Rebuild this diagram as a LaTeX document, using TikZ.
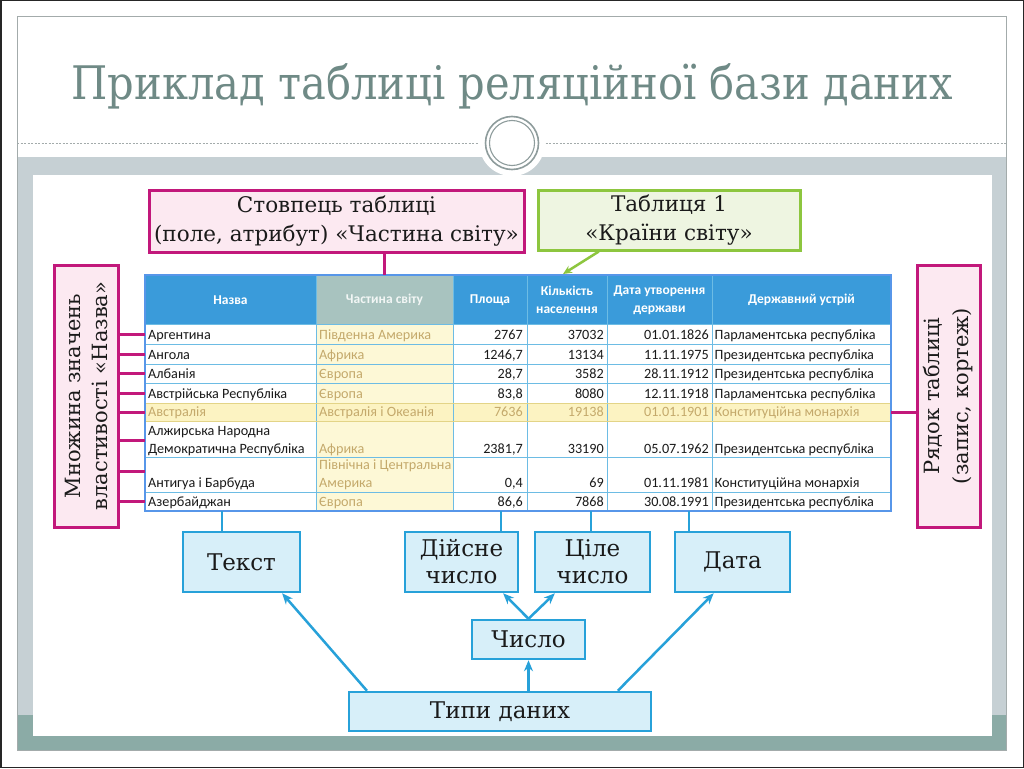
\documentclass[tikz,border=0pt]{standalone}
\usepackage{fontspec}
\setmainfont{DejaVu Serif}
\newfontfamily\titlefont{DejaVu Serif Condensed}
\newfontfamily\tabfont{Carlito}
\usetikzlibrary{arrows.meta,calc}
\definecolor{titlegray}{HTML}{6F8A86}
\definecolor{framegray}{HTML}{A3ABAB}
\definecolor{ringgray}{HTML}{8E9C9C}
\definecolor{bandgray}{HTML}{C6D0D4}
\definecolor{bandteal}{HTML}{8BABA6}
\definecolor{pinkline}{HTML}{C2187B}
\definecolor{pinkfill}{HTML}{FCE9F1}
\definecolor{greenline}{HTML}{8DC63F}
\definecolor{greenfill}{HTML}{EEF5E1}
\definecolor{blueline}{HTML}{27A1D9}
\definecolor{bluefill}{HTML}{D7EFF9}
\definecolor{headblue}{HTML}{3A9BDA}
\definecolor{headgray}{HTML}{A8C3BF}
\definecolor{gridblue}{HTML}{6DBCE4}
\definecolor{paleyellow}{HTML}{FDF8D6}
\definecolor{rowyellow}{HTML}{FCF3C2}
\definecolor{rowedge}{HTML}{E3D487}
\definecolor{tantext}{HTML}{C4A96B}
\definecolor{bodytext}{HTML}{1A1A1A}
\tikzset{
  pinkbox/.style={draw=pinkline, line width=3pt, fill=pinkfill, inner sep=0pt, align=center,
    text=bodytext, font=\fontsize{21.5}{29}\selectfont},
  greenbox/.style={draw=greenline, line width=3pt, fill=greenfill, inner sep=0pt, align=center,
    text=bodytext, font=\fontsize{21.5}{29}\selectfont},
  bluebox/.style={draw=blueline, line width=2.5pt, fill=bluefill, inner sep=0pt, align=center,
    text=bodytext, font=\fontsize{23}{27}\selectfont},
  pinkconn/.style={draw=pinkline, line width=3pt},
  blueconn/.style={draw=blueline, line width=2.5pt},
  bluearrow/.style={draw=blueline, line width=2.5pt, -{Stealth[length=11pt,width=9pt]}},
  greenarrow/.style={draw=greenline, line width=2.5pt, -{Stealth[length=9pt,width=8pt]}},
  hcell/.style={inner sep=0pt, align=center, text=white, font=\tabfont\bfseries\fontsize{13.5}{18}\selectfont},
  tcell/.style={inner sep=0pt, text=bodytext, font=\tabfont\fontsize{14.2}{18}\selectfont},
  tant/.style={text=tantext},
}
\begin{document}
\begin{tikzpicture}[x=1pt,y=-1pt]
\useasboundingbox (0,0) rectangle (1024,768);
\fill[white] (0,0) rectangle (1024,768);
\draw[black!85, line width=1.5pt] (0.75,0.75) rectangle (1023.25,767.25);
% slide frame
\fill[bandgray] (17,157) rectangle (1006,715);
\fill[bandteal] (17,715) rectangle (1006,750);
\draw[framegray, line width=1pt] (17,17) rectangle (1006,750);
\fill[white] (33,175) rectangle (992,736);
\draw[framegray, line width=1pt, dash pattern=on 2pt off 1.5pt] (17,143) -- (1006,143);
\fill[white] (512,143) circle (33);
\draw[ringgray, line width=1.6pt] (512,143) circle (26.5);
\draw[ringgray, line width=1.1pt] (512,143) circle (22.5);
% title
\node[anchor=base, inner sep=0pt, text=titlegray] (title) at (512,99)
  {\resizebox{881pt}{!}{\titlefont\fontsize{48}{48}\selectfont Приклад таблиці реляційної бази даних}};
% ---------- table ----------
\fill[headblue] (145,275) rectangle (891,324);
\fill[headgray] (316,275) rectangle (453,324);
\fill[white] (145,324) rectangle (891,511);
\fill[paleyellow] (316,324) rectangle (453,511);
\fill[rowyellow] (145,403) rectangle (891,421);
\foreach \yy in {324,344,364,383,403,421,457,492}
  \draw[gridblue, line width=1pt] (145,\yy) -- (891,\yy);
\foreach \xx in {316,453,527,607,712}
  \draw[gridblue, line width=1pt] (\xx,275) -- (\xx,511);
\draw[rowedge, line width=1pt] (145,403) rectangle (891,421);
\draw[gridblue!80!blue, line width=1.3pt] (145,275) rectangle (891,511);
% header
\node[hcell] (h1) at (230.5,300) {Назва};
\node[hcell, text=white!85!headgray] (h2) at (384.5,300) {Частина світу};
\node[hcell] (h3) at (490,300) {Площа};
\node[hcell] (h4) at (567,300) {Кількість\\населення};
\node[hcell] (h5) at (659.5,300) {Дата утворення\\держави};
\node[hcell] (h6) at (801.5,300) {Державний устрій};
% row 1
\node[tcell, anchor=base west] (r1a) at (148,339) {Аргентина};
\node[tcell, tant, anchor=base west] (r1b) at (319,339) {Південна Америка};
\node[tcell, anchor=base east] (r1c) at (523,339) {2767};
\node[tcell, anchor=base east] (r1d) at (604,339) {37032};
\node[tcell, anchor=base east] (r1e) at (709,339) {01.01.1826};
\node[tcell, anchor=base west] (r1f) at (714.5,339) {Парламентська республіка};
% row 2
\node[tcell, anchor=base west] (r2a) at (148,359) {Ангола};
\node[tcell, tant, anchor=base west] (r2b) at (319,359) {Африка};
\node[tcell, anchor=base east] (r2c) at (523,359) {1246,7};
\node[tcell, anchor=base east] (r2d) at (604,359) {13134};
\node[tcell, anchor=base east] (r2e) at (709,359) {11.11.1975};
\node[tcell, anchor=base west] (r2f) at (714.5,359) {Президентська республіка};
% row 3
\node[tcell, anchor=base west] (r3a) at (148,378.5) {Албанія};
\node[tcell, tant, anchor=base west] (r3b) at (319,378.5) {Європа};
\node[tcell, anchor=base east] (r3c) at (523,378.5) {28,7};
\node[tcell, anchor=base east] (r3d) at (604,378.5) {3582};
\node[tcell, anchor=base east] (r3e) at (709,378.5) {28.11.1912};
\node[tcell, anchor=base west] (r3f) at (714.5,378.5) {Президентська республіка};
% row 4
\node[tcell, anchor=base west] (r4a) at (148,398) {Австрійська Республіка};
\node[tcell, tant, anchor=base west] (r4b) at (319,398) {Європа};
\node[tcell, anchor=base east] (r4c) at (523,398) {83,8};
\node[tcell, anchor=base east] (r4d) at (604,398) {8080};
\node[tcell, anchor=base east] (r4e) at (709,398) {12.11.1918};
\node[tcell, anchor=base west] (r4f) at (714.5,398) {Парламентська республіка};
% row 5
\node[tcell, tant, anchor=base west] (r5a) at (148,416.5) {Австралія};
\node[tcell, tant, anchor=base west] (r5b) at (319,416.5) {Австралія і Океанія};
\node[tcell, tant, anchor=base east] (r5c) at (523,416.5) {7636};
\node[tcell, tant, anchor=base east] (r5d) at (604,416.5) {19138};
\node[tcell, tant, anchor=base east] (r5e) at (709,416.5) {01.01.1901};
\node[tcell, tant, anchor=base west] (r5f) at (714.5,416.5) {Конституційна монархія};
% row 6
\node[tcell, anchor=base west] (r6a0) at (148,435) {Алжирська Народна};
\node[tcell, anchor=base west] (r6a) at (148,453) {Демократична Республіка};
\node[tcell, tant, anchor=base west] (r6b) at (319,453) {Африка};
\node[tcell, anchor=base east] (r6c) at (523,453) {2381,7};
\node[tcell, anchor=base east] (r6d) at (604,453) {33190};
\node[tcell, anchor=base east] (r6e) at (709,453) {05.07.1962};
\node[tcell, anchor=base west] (r6f) at (714.5,453) {Президентська республіка};
% row 7
\node[tcell, tant, anchor=base west] (r7b0) at (319,469) {Північна і Центральна};
\node[tcell, anchor=base west] (r7a) at (148,487.5) {Антигуа і Барбуда};
\node[tcell, tant, anchor=base west] (r7b) at (319,487.5) {Америка};
\node[tcell, anchor=base east] (r7c) at (523,487.5) {0,4};
\node[tcell, anchor=base east] (r7d) at (604,487.5) {69};
\node[tcell, anchor=base east] (r7e) at (709,487.5) {01.11.1981};
\node[tcell, anchor=base west] (r7f) at (714.5,487.5) {Конституційна монархія};
% row 8
\node[tcell, anchor=base west] (r8a) at (148,506.5) {Азербайджан};
\node[tcell, tant, anchor=base west] (r8b) at (319,506.5) {Європа};
\node[tcell, anchor=base east] (r8c) at (523,506.5) {86,6};
\node[tcell, anchor=base east] (r8d) at (604,506.5) {7868};
\node[tcell, anchor=base east] (r8e) at (709,506.5) {30.08.1991};
\node[tcell, anchor=base west] (r8f) at (714.5,506.5) {Президентська республіка};
% row-edge coordinates
\coordinate (L1) at (145,334.5);
\coordinate (L2) at (145,354);
\coordinate (L3) at (145,373.5);
\coordinate (L4) at (145,393);
\coordinate (L5) at (145,412);
\coordinate (L6) at (145,440);
\coordinate (L7) at (145,471);
\coordinate (L8) at (145,501.5);
\coordinate (R5) at (891,412);
\coordinate (B1) at (222,511);
\coordinate (B2) at (501,511);
\coordinate (B3) at (591,511);
\coordinate (B4) at (689,511);
% ---------- callouts ----------
\node[pinkbox, minimum width=375pt, minimum height=62pt] (colbox) at (336.5,221)
  {Стовпець таблиці\\(поле, атрибут) «Частина світу»};
\node[greenbox, minimum width=262pt, minimum height=60pt] (tabbox) at (669,220)
  {Таблиця 1\\«Країни світу»};
\node[pinkbox, rotate=90, minimum width=262pt, minimum height=64pt, font=\fontsize{21}{27}\selectfont] (setbox) at (86,396)
  {Множина значень\\властивості «Назва»};
\node[pinkbox, rotate=90, minimum width=262pt, minimum height=63pt, font=\fontsize{21}{29}\selectfont] (rowbox) at (948.5,396)
  {Рядок таблиці\\(запис, кортеж)};
\draw[pinkconn] (colbox.south -| h2.north) -- (h2.north |- 0,275);
\draw[greenarrow] ($(tabbox.south west)!0.235!(tabbox.south east)$) -- ($(h4.north)+(-4,-12)$);
\foreach \i in {1,...,8}
  \draw[pinkconn] (L\i -| setbox.south) -- (L\i);
\draw[pinkconn] (R5) -- (R5 -| rowbox.north);
% ---------- data types ----------
\node[bluebox, minimum width=117pt, minimum height=60pt] (tekst) at (241.5,562) {Текст};
\node[bluebox, minimum width=113pt, minimum height=60pt] (diysne) at (461.5,562) {Дійсне\\число};
\node[bluebox, minimum width=115pt, minimum height=60pt] (tsile) at (592.5,562) {Ціле\\число};
\node[bluebox, minimum width=115pt, minimum height=60pt] (data) at (732.5,562) {Дата};
\node[bluebox, minimum width=113pt, minimum height=39pt] (chyslo) at (528.5,639.5) {Число};
\node[bluebox, minimum width=302pt, minimum height=39pt] (typy) at (500,711.5) {Типи даних};
\draw[blueconn] (B1) -- (B1 |- tekst.north);
\draw[blueconn] (B2) -- (B2 |- diysne.north);
\draw[blueconn] (B3) -- (B3 |- tsile.north);
\draw[blueconn] (B4) -- (B4 |- data.north);
\draw[bluearrow] ($(typy.north west)!0.063!(typy.north east)$) -- ($(tekst.south west)!0.84!(tekst.south east)$);
\draw[bluearrow] ($(typy.north west)!0.887!(typy.north east)$) -- ($(data.south west)!0.34!(data.south east)$);
\draw[bluearrow] (typy.north -| chyslo.south) -- (chyslo.south);
\draw[bluearrow] (chyslo.north) -- ($(diysne.south west)!0.86!(diysne.south east)$);
\draw[bluearrow] (chyslo.north) -- ($(tsile.south west)!0.18!(tsile.south east)$);
\end{tikzpicture}
\end{document}
